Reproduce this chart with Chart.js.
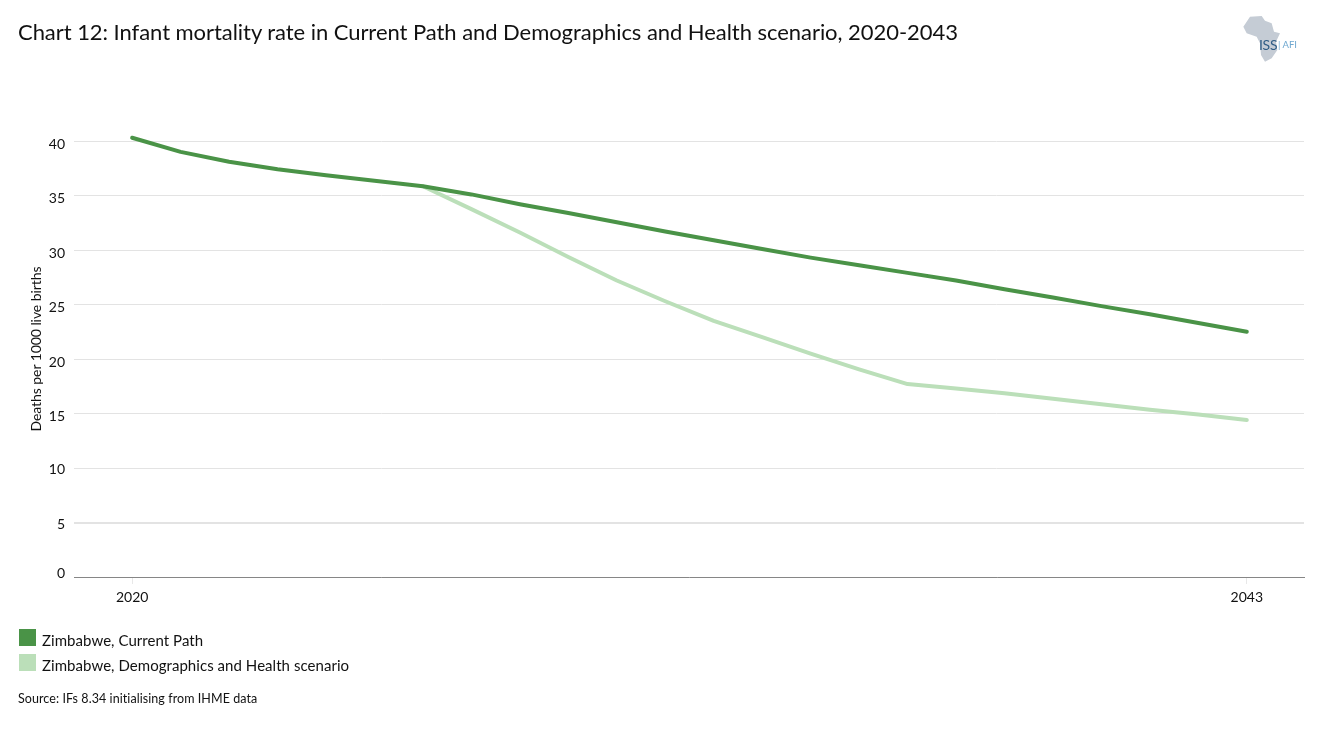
<!DOCTYPE html>
<html>
<head>
<meta charset="utf-8">
<title>Chart 12</title>
<script src="https://cdn.jsdelivr.net/npm/chart.js@4/dist/chart.umd.min.js"></script>
<style>
  html, body { margin: 0; padding: 0; background: #fff; }
  body { width: 1318px; height: 729px; position: relative; overflow: hidden; font-family: Lato, "Open Sans", sans-serif; color: #111; }
  canvas { position: absolute; left: 0; top: 0; }
  .abs { position: absolute; white-space: nowrap; }
  #title { left: 18px; top: 18px; font-size: 22px; line-height: 27px; letter-spacing: -0.05px; }
  #ytitle { left: 36px; top: 348.5px; font-size: 14px; line-height: 16px; transform: translate(-50%, -50%) rotate(-90deg); letter-spacing: -0.07px; }
  #source { left: 18px; top: 691px; font-size: 12.5px; line-height: 16px; letter-spacing: 0.07px; }
  .swatch { position: absolute; left: 19px; width: 17px; height: 17px; }
  .legend-text { left: 42px; font-size: 15px; line-height: 18px; letter-spacing: 0.05px; }
  #logo { left: 1200px; top: 0; width: 118px; height: 80px; }
  #iss { left: 1259px; top: 37px; font-size: 14px; line-height: 16px; color: #2f5c85; letter-spacing: -0.3px; }
  #afi { left: 1278px; top: 39px; font-size: 9.5px; line-height: 12px; color: #6fa8d0; }
</style>
</head>
<body>
<canvas id="chart" width="1318" height="729"></canvas>
<div class="abs" id="title">Chart 12: Infant mortality rate in Current Path and Demographics and Health scenario, 2020-2043</div>
<div class="abs" id="ytitle">Deaths per 1000 live births</div>
<svg class="abs" id="logo" viewBox="0 0 354 240">
  <polygon fill="#c5ccd5" points="150,50 185,48 195,62 215,70 222,95 240,100 228,125 232,150 215,175 195,185 183,165 180,130 170,110 140,100 130,80"/>
</svg>
<div class="abs" id="iss">ISS</div>
<div class="abs" id="afi">| AFI</div>
<div id="legend"></div>
<div class="abs" id="source">Source: IFs 8.34 initialising from IHME data</div>

<script>
const years = [2020,2021,2022,2023,2024,2025,2026,2027,2028,2029,2030,2031,2032,2033,2034,2035,2036,2037,2038,2039,2040,2041,2042,2043];
const currentPath = [40.3,39.0,38.1,37.4,36.85,36.35,35.85,35.1,34.2,33.4,32.55,31.7,30.9,30.1,29.3,28.6,27.9,27.2,26.4,25.65,24.85,24.1,23.3,22.5];
const demoHealth = [null,null,null,null,null,null,35.85,33.75,31.6,29.35,27.2,25.3,23.5,22.0,20.5,19.05,17.7,17.3,16.85,16.35,15.85,15.35,14.9,14.4];
const xTickYears = [2020, 2043];
const seriesNames = ["Zimbabwe, Current Path", "Zimbabwe, Demographics and Health scenario"];
const seriesColors = ["#4a9347", "#bbdfb9"];

const toPoints = vals => vals.map((v, i) => ({ x: years[i], y: v })).filter(p => p.y !== null);

// the y labels in the original drift a bit against the gridlines
const labelShift = { 0: -7, 5: -1, 10: -2 };
const nudgeLabels = {
  id: "nudgeLabels",
  beforeDraw(chart) {
    const yScale = chart.scales.y;
    yScale.getLabelItems().forEach((item, i) => {
      const shift = labelShift[yScale.ticks[i].value];
      if (shift && !item.nudged) {
        item.options.translation[1] += shift;
        item.nudged = true;
      }
    });
  }
};

new Chart(document.getElementById("chart"), {
  type: "line",
  data: {
    datasets: [
      { label: seriesNames[1], data: toPoints(demoHealth), borderColor: seriesColors[1], order: 2 },
      { label: seriesNames[0], data: toPoints(currentPath), borderColor: seriesColors[0], order: 1 }
    ]
  },
  options: {
    responsive: false,
    animation: false,
    clip: false,
    layout: { padding: { top: 141, right: 14, left: 0, bottom: 0 } },
    elements: {
      point: { radius: 0 },
      line: { borderWidth: 4, tension: 0, borderCapStyle: "round", borderJoinStyle: "round" }
    },
    plugins: { legend: { display: false }, tooltip: { enabled: false } },
    scales: {
      x: {
        type: "linear",
        min: 2018.8,
        max: 2044.18,
        afterBuildTicks: s => { s.ticks = xTickYears.map(v => ({ value: v })); },
        afterFit: s => { s.height = 152; },
        border: { color: "#868686", width: 1 },
        grid: { drawOnChartArea: false, tickColor: "#e8e8e8", tickLength: 7 },
        ticks: {
          maxRotation: 0,
          padding: 5,
          color: "#111",
          font: { family: "Lato", size: 14 },
          callback: v => String(v)
        }
      },
      y: {
        min: 0,
        max: 40,
        afterFit: s => { s.width = 74; },
        border: { display: false },
        grid: {
          color: "#e3e3e3",
          lineWidth: c => (c.tick && c.tick.value === 5 ? 2 : 1),
          tickLength: 0
        },
        ticks: {
          stepSize: 5,
          padding: 9,
          labelOffset: 3,
          color: "#111",
          font: { family: "Lato", size: 14 }
        }
      }
    }
  },
  plugins: [nudgeLabels]
});

// legend under the chart, same order as the original
const legendEl = document.getElementById("legend");
const legendTops = [629, 654];
seriesNames.forEach((name, i) => {
  legendEl.innerHTML += `<div class="swatch" style="top:${legendTops[i]}px;background:${seriesColors[i]}"></div>` +
    `<div class="abs legend-text" style="top:${legendTops[i] + 2}px">${name}</div>`;
});
</script>
</body>
</html>
